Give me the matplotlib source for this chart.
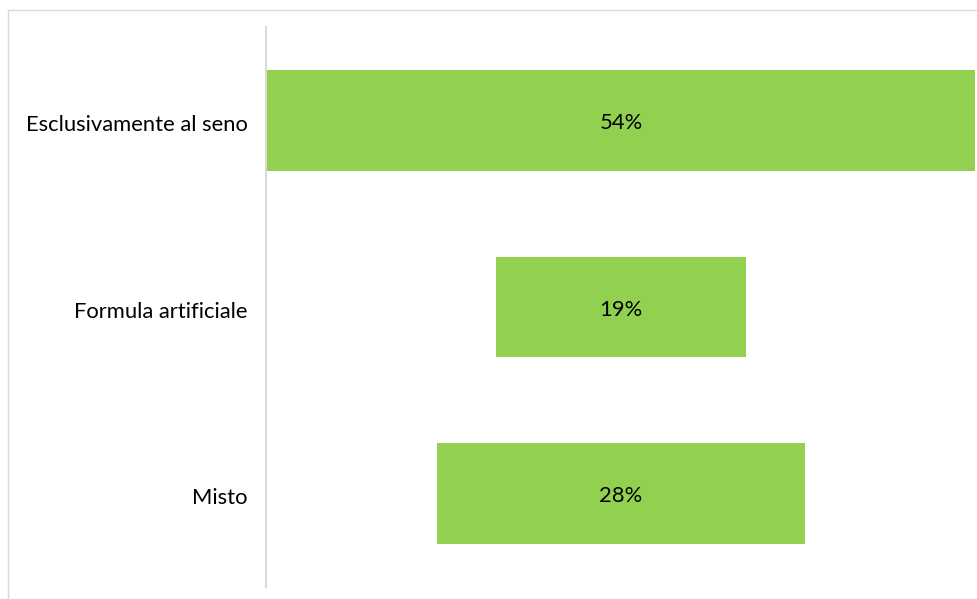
import matplotlib.pyplot as plt
from matplotlib.patches import Rectangle

# feeding type shares (percent)
categories = ['Esclusivamente al seno', 'Formula artificiale', 'Misto']
values = [54, 19, 28]
labels = ['54%', '19%', '28%']

W, H = 978, 599
fig = plt.figure(figsize=(W / 100, H / 100), dpi=100)
plt.rcParams['font.family'] = ['Lato', 'DejaVu Sans']

# chart area outline (runs off the right and bottom edges)
fig.patches.append(Rectangle((8 / W, -0.1), 1.2, 1 - 10 / H + 0.1,
                             transform=fig.transFigure, fill=False,
                             edgecolor='#D9D9D9', linewidth=1))

ax = fig.add_axes([266 / W, 1 - 587 / H, 710 / W, 560 / H])

# centred bars, funnel style
for i, v in enumerate(values):
    ax.barh(i, v, left=-v / 2, height=0.54, color='#92D050')
    ax.text(0, i + 0.015, labels[i], ha='center', va='center', fontsize=15.8, color='black')

ax.set_xlim(-27.08, 27.08)
ax.set_ylim(2.5, -0.5)
ax.set_yticks([i + 0.015 for i in range(len(categories))])
ax.set_yticklabels(categories, fontsize=15.8)
ax.tick_params(axis='y', length=0, pad=13)
ax.set_xticks([])
for s in ['top', 'right', 'bottom']:
    ax.spines[s].set_visible(False)
ax.spines['left'].set_color('#D9D9D9')
ax.spines['left'].set_linewidth(1.5)

fig.savefig('out.png', dpi=100)
